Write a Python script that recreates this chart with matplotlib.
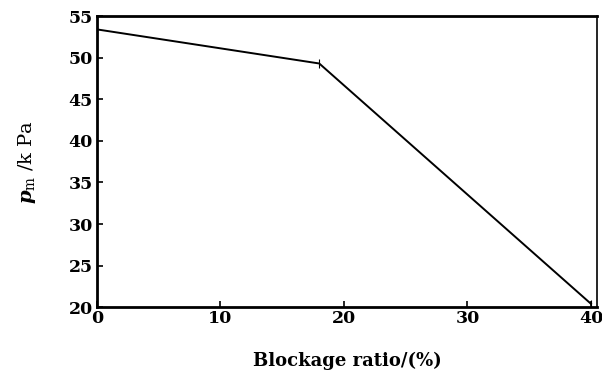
import matplotlib.pyplot as plt

plt.rcParams['font.family'] = ['DejaVu Serif']
plt.rcParams['mathtext.fontset'] = 'custom'
plt.rcParams['mathtext.it'] = 'DejaVu Serif:italic:bold'
plt.rcParams['mathtext.rm'] = 'DejaVu Serif'

ratio = [0, 18, 40]
pm = [53.4, 49.3, 20.4]
err = [0.5, 0.5, 0.5]

fig = plt.figure(figsize=(6.02, 3.83), dpi=100)
ax = fig.add_axes([0.161, 0.198, 0.831, 0.760])

ax.errorbar(ratio, pm, yerr=err, color='black', lw=1.4, capsize=0,
            elinewidth=0.8)

ax.set_xlim(0, 40.5)
ax.set_ylim(20, 55)
ax.set_xticks([0, 10, 20, 30, 40])
ax.set_yticks([20, 25, 30, 35, 40, 45, 50, 55])
ax.tick_params(direction='in', length=4, width=1.2, labelsize=12.5)
ax.tick_params(axis='y', pad=3)
ax.tick_params(axis='x', pad=2)
for lab in ax.get_xticklabels() + ax.get_yticklabels():
    lab.set_fontweight('bold')

for side in ['left', 'bottom', 'top']:
    ax.spines[side].set_linewidth(2)
ax.spines['right'].set_linewidth(1.2)

ax.set_xlabel('Blockage ratio/(%)', fontsize=13, fontweight='bold', labelpad=18)
ax.set_ylabel(r'$p_{\rm m}$ /k Pa', fontsize=14, labelpad=22)

fig.savefig('out.png', dpi=100)
